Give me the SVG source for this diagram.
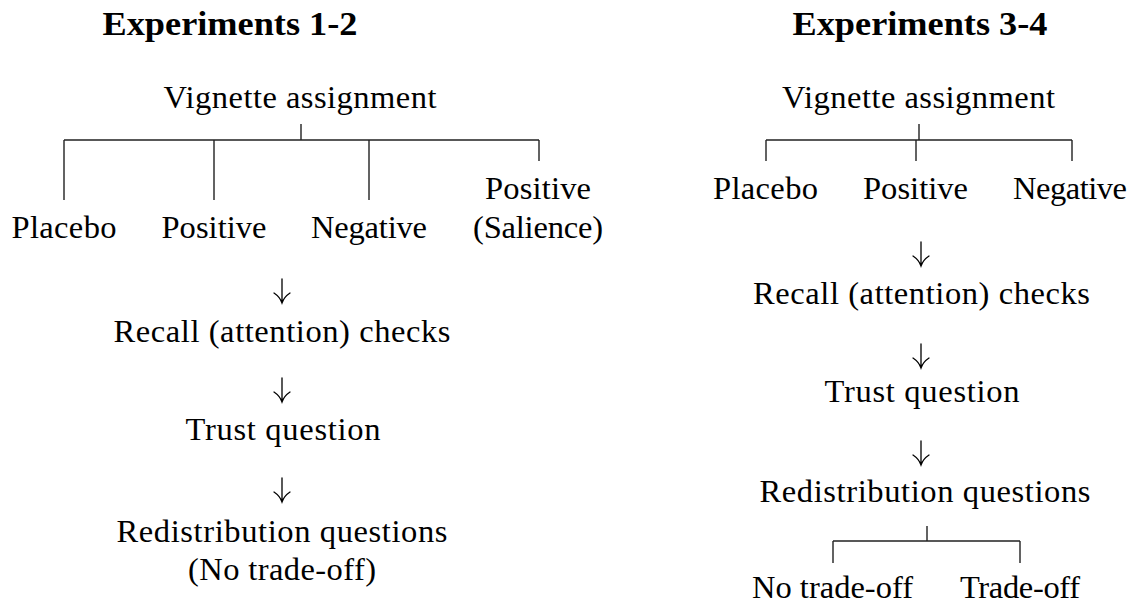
<svg xmlns="http://www.w3.org/2000/svg" width="1133" height="603" viewBox="0 0 1133 603">
<style>
text{font-family:"Liberation Serif","Times New Roman",serif;font-size:32.5px;fill:#000;text-anchor:middle}
.title{font-weight:bold;font-size:33px}
.ln{stroke:#222;stroke-width:1.4;fill:none}
.ar{stroke:#000;stroke-width:1.3;fill:none;stroke-linecap:round}
</style>
<rect width="1133" height="603" fill="#fff"/>
<g id="title-left"><text class="title" x="230" y="35" textLength="255" lengthAdjust="spacingAndGlyphs">Experiments 1-2</text></g>
<g id="title-right"><text class="title" x="920" y="35" textLength="255" lengthAdjust="spacingAndGlyphs">Experiments 3-4</text></g>

<g id="l-vignette"><text x="300" y="108" textLength="273">Vignette assignment</text></g>
<g id="l-placebo"><text x="64" y="238" textLength="105">Placebo</text></g>
<g id="l-positive"><text x="214" y="238" textLength="105">Positive</text></g>
<g id="l-negative"><text x="369" y="238" textLength="116">Negative</text></g>
<g id="l-salience"><text x="538" y="199" textLength="106">Positive</text><text x="538" y="238" textLength="130">(Salience)</text></g>
<g id="l-recall"><text x="282" y="342" textLength="337">Recall (attention) checks</text></g>
<g id="l-trust"><text x="283" y="440" textLength="195">Trust question</text></g>
<g id="l-redis"><text x="282" y="542" textLength="331">Redistribution questions</text><text x="282" y="580" textLength="188">(No trade-off)</text></g>

<g id="r-vignette"><text x="918.5" y="108" textLength="273">Vignette assignment</text></g>
<g id="r-placebo"><text x="765.5" y="199" textLength="105">Placebo</text></g>
<g id="r-positive"><text x="915.5" y="199" textLength="105">Positive</text></g>
<g id="r-negative"><text x="1070" y="199" textLength="114">Negative</text></g>
<g id="r-recall"><text x="921.5" y="304" textLength="337">Recall (attention) checks</text></g>
<g id="r-trust"><text x="922" y="402" textLength="195">Trust question</text></g>
<g id="r-redis"><text x="925" y="502" textLength="331">Redistribution questions</text></g>
<g id="r-notradeoff"><text x="832.5" y="598" textLength="161">No trade-off</text></g>
<g id="r-tradeoff"><text x="1020" y="598" textLength="120">Trade-off</text></g>

<g id="connectors">
<path class="ln" d="M301 124V140M64 140H539M64 140V200M214 140V200M369 140V200M539 140V161"/>
<path class="ln" d="M919 124V140M766 140H1072M766 140V161M916 140V161M1072 140V161"/>
<path class="ln" d="M927 526V541M833 541H1020M833 541V563M1020 541V563"/>
<path class="ar" d="M282 279V303M274 293Q280 297 282 303Q284 297 290 293"/>
<path class="ar" d="M282 378V402M274 392Q280 396 282 402Q284 396 290 392"/>
<path class="ar" d="M282 478V502M274 492Q280 496 282 502Q284 496 290 492"/>
<path class="ar" d="M921 242V266M913 256Q919 260 921 266Q923 260 929 256"/>
<path class="ar" d="M921 344V368M913 358Q919 362 921 368Q923 362 929 358"/>
<path class="ar" d="M921 441V465M913 455Q919 459 921 465Q923 459 929 455"/>
</g>
</svg>
